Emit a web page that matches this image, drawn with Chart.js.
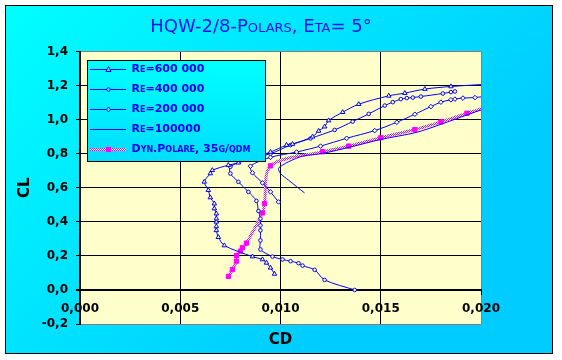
<!DOCTYPE html>
<html><head><meta charset="utf-8">
<script src="https://cdn.jsdelivr.net/npm/chart.js@4.4.1/dist/chart.umd.min.js"></script>
<style>html,body{margin:0;padding:0;background:#fff;}canvas{display:block;}</style>
</head><body>
<canvas id="c" width="562" height="360"></canvas>
<script>
const titleText = 'HQW-2/8-Polars, Eta= 5°';
const seriesNames = ['Re=600 000', 'Re=400 000', 'Re=200 000', 'Re=100000', 'Dyn.Polare, 35g/qdm'];

const re600CD = [0.0097,0.0095,0.0093,0.0091,0.0086,0.0072,0.0069,0.0068,0.0068,0.0068,0.0068,0.0068,0.0067,0.0067,0.0065,0.0064,0.0062,0.0065,0.0066,0.0074,0.0079,0.0087,0.0095,0.0103,0.0106,0.0116,0.0119,0.0122,0.0124,0.0131,0.0139,0.0154,0.0162,0.0172,0.0185,0.0205];
const re600CL = [0.094,0.13,0.159,0.179,0.196,0.261,0.31,0.35,0.373,0.40,0.419,0.448,0.478,0.507,0.543,0.586,0.635,0.684,0.703,0.733,0.747,0.78,0.81,0.851,0.857,0.90,0.934,0.959,0.995,1.044,1.091,1.14,1.156,1.18,1.195,1.21];

const re400CD = [0.0137,0.0122,0.0117,0.0111,0.0109,0.0105,0.0101,0.0096,0.0090,0.0090,0.0090,0.0090,0.0090,0.0089,0.0088,0.0084,0.0079,0.0075,0.0075,0.0083,0.0095,0.0105,0.0115,0.0127,0.0136,0.0144,0.0152,0.0156,0.0160,0.0163,0.0166,0.0170,0.0181,0.0185,0.0187];
const re400CL = [0.0,0.059,0.118,0.143,0.157,0.169,0.179,0.196,0.238,0.291,0.35,0.379,0.419,0.464,0.523,0.576,0.635,0.684,0.723,0.765,0.80,0.851,0.89,0.94,0.989,1.034,1.083,1.103,1.121,1.127,1.13,1.136,1.154,1.162,1.166];

const re200CD = [0.0099,0.0095,0.0091,0.0086,0.0085,0.0095,0.0108,0.0120,0.0133,0.0147,0.0158,0.0167,0.0175,0.0180,0.0185,0.0187,0.0191,0.0197,0.0204];
const re200CL = [0.517,0.576,0.629,0.688,0.727,0.779,0.81,0.845,0.891,0.936,0.985,1.032,1.077,1.103,1.117,1.121,1.127,1.13,1.14];

const re100CD = [0.0112,0.0104,0.0100,0.0099,0.0101,0.0104,0.0111,0.0121,0.0135,0.0150,0.0168,0.0180,0.0193,0.0203];
const re100CL = [0.57,0.645,0.684,0.714,0.733,0.753,0.786,0.802,0.84,0.884,0.926,0.973,1.028,1.07];

const dynCD = [0.0074,0.0076,0.0078,0.0078,0.0080,0.0081,0.0083,0.0091,0.0092,0.0095,0.0121,0.0134,0.0150,0.0167,0.0180,0.0193,0.0203];
const dynCL = [0.08,0.12,0.169,0.202,0.228,0.248,0.275,0.452,0.507,0.729,0.812,0.845,0.894,0.942,0.987,1.038,1.075];

const xTickLabels = ['0,000','0,005','0,010','0,015','0,020'];
const yTickLabels = ['-0,2','0,0','0,2','0,4','0,6','0,8','1,0','1,2','1,4'];
const xTitle = 'CD';
const yTitle = 'CL';

const pts = (xs, ys) => xs.map((x, i) => ({x: x, y: ys[i]}));

const BLUE = '#0000FF';
const MAG = '#FF00FF';
const PLOT_BG = '#FFFFCC';
const FAM = "'DejaVu Sans', sans-serif";

// checkered magenta/white pattern for dyn. polar line
const pc = document.createElement('canvas'); pc.width = 2; pc.height = 2;
const pg = pc.getContext('2d');
pg.fillStyle = '#FFFFFF'; pg.fillRect(0,0,2,2);
pg.fillStyle = MAG; pg.fillRect(0,0,1,1); pg.fillRect(1,1,1,1);
const magPattern = pg.createPattern(pc, 'repeat');

function makeSymbol(kind) {
  const c = document.createElement('canvas'); c.width = 36; c.height = 11;
  const g = c.getContext('2d');
  if (kind === 'dyn') {
    g.fillStyle = magPattern; g.fillRect(0, 4, 36, 3);
    g.fillStyle = MAG; g.fillRect(16, 3, 5, 5);
    return c;
  }
  g.strokeStyle = BLUE; g.lineWidth = 1;
  g.beginPath(); g.moveTo(0, 5.5); g.lineTo(36, 5.5); g.stroke();
  g.fillStyle = '#00FFFF';
  if (kind === 'tri') { g.beginPath(); g.moveTo(18.5, 2.5); g.lineTo(21, 7.5); g.lineTo(16, 7.5); g.closePath(); g.fill(); g.stroke(); }
  if (kind === 'circ') { g.beginPath(); g.arc(18.5, 5.5, 1.8, 0, Math.PI*2); g.fill(); g.stroke(); }
  if (kind === 'dia') { g.beginPath(); g.moveTo(18.5, 3); g.lineTo(20.5, 5.5); g.lineTo(18.5, 8); g.lineTo(16.5, 5.5); g.closePath(); g.fill(); g.stroke(); }
  return c;
}
const legendSymbols = [makeSymbol('tri'), makeSymbol('circ'), makeSymbol('dia'), makeSymbol('line'), makeSymbol('dyn')];

const backgroundPlugin = {
  id: 'bgFrame',
  beforeDraw(chart) {
    const ctx = chart.ctx, a = chart.chartArea;
    ctx.save();
    const grd = ctx.createLinearGradient(5, 5, 330, 330);
    grd.addColorStop(0, '#00FFFF'); grd.addColorStop(1, '#00CCFF');
    ctx.fillStyle = grd; ctx.fillRect(5, 5, 548, 349);
    ctx.strokeStyle = '#000'; ctx.lineWidth = 1; ctx.strokeRect(5.5, 5.5, 547, 348);
    ctx.fillStyle = PLOT_BG; ctx.fillRect(a.left, a.top, a.right - a.left, a.bottom - a.top);
    ctx.restore();
  }
};

function drawLegendOnTop(chart) {
  const lg = chart.legend, ctx = chart.ctx;
  ctx.save();
  const grd = ctx.createLinearGradient(0, 60, 0, 162);
  grd.addColorStop(0, '#00FFFF'); grd.addColorStop(1, '#00DDFF');
  ctx.fillStyle = grd; ctx.fillRect(87, 60, 179, 102);
  ctx.strokeStyle = '#000'; ctx.lineWidth = 1; ctx.strokeRect(87.5, 60.5, 178, 101);
  ctx.restore();
  lg.left = 81; lg.top = 55; lg.right = 300; lg.bottom = 200; lg.width = 219; lg.height = 145;
  lg.draw();
}
const legendLayerPlugin = {
  id: 'legendLayer',
  beforeLayout(chart) {
    const lg = chart.legend;
    if (!lg || lg._patchedLayer) return;
    lg._patchedLayer = true;
    lg._layers = function() { return [{ z: 10, draw() { drawLegendOnTop(chart); } }]; };
  }
};

const common = { showLine: true, tension: 0.3, borderWidth: 1, borderColor: BLUE, pointBorderColor: BLUE, pointBorderWidth: 1, pointBackgroundColor: PLOT_BG };

new Chart(document.getElementById('c'), {
  type: 'scatter',
  data: {
    datasets: [
      Object.assign({}, common, { label: seriesNames[0], data: pts(re600CD, re600CL), pointStyle: 'triangle', pointRadius: 2.6 }),
      Object.assign({}, common, { label: seriesNames[1], data: pts(re400CD, re400CL), pointStyle: 'circle', pointRadius: 1.8 }),
      Object.assign({}, common, { label: seriesNames[2], data: pts(re200CD, re200CL), pointStyle: 'rectRot', pointRadius: 2.3 }),
      Object.assign({}, common, { label: seriesNames[3], data: pts(re100CD, re100CL), pointRadius: 0 }),
      Object.assign({}, common, { label: seriesNames[4], data: pts(dynCD, dynCL), borderColor: magPattern, borderWidth: 3, pointStyle: 'rect', pointRadius: 3, pointBorderColor: MAG, pointBackgroundColor: MAG })
    ]
  },
  options: {
    responsive: false, animation: false, devicePixelRatio: 1,
    layout: { padding: { left: 5, right: 45, top: 5, bottom: 36 } },
    plugins: {
      tooltip: { enabled: false },
      title: {
        display: true, text: titleText, color: '#1111EE',
        font: { family: FAM, size: 18, weight: 'small-caps', lineHeight: 1.2 },
        padding: { top: 12, bottom: 13 }
      },
      legend: {
        display: true, position: 'chartArea', align: 'start',
        labels: {
          usePointStyle: true, pointStyleWidth: 36, padding: 9, color: '#0000EE',
          font: { family: FAM, size: 11, weight: 'small-caps bold' },
          generateLabels: (chart) => chart.data.datasets.map((ds, i) => ({
            text: ds.label, pointStyle: legendSymbols[i], fontColor: '#0000EE',
            fillStyle: 'rgba(0,0,0,0)', strokeStyle: 'rgba(0,0,0,0)', lineWidth: 0, hidden: false, datasetIndex: i
          }))
        }
      }
    },
    scales: {
      x: {
        type: 'linear', position: { y: 0 }, min: 0, max: 0.02,
        ticks: { stepSize: 0.005, maxRotation: 0, padding: 8, color: '#000',
          font: { family: FAM, size: 12, weight: 'bold' },
          callback: (v, i) => xTickLabels[i] },
        grid: { color: (c) => c.index === xTickLabels.length - 1 ? '#808080' : '#000', lineWidth: 1, tickLength: 4, tickColor: '#000' },
        border: { color: '#000', width: 2 },
        title: { display: true, text: xTitle, color: '#000', font: { family: FAM, size: 15, weight: 'bold', lineHeight: 1.2 }, padding: { top: 7, bottom: 0 } }
      },
      y: {
        type: 'linear', position: 'left', min: -0.2, max: 1.4,
        afterFit: (s) => { s.width = 75; },
        ticks: { stepSize: 0.2, padding: 8, color: '#000',
          font: { family: FAM, size: 12, weight: 'bold' },
          callback: (v, i) => yTickLabels[i] },
        grid: {
          color: (c) => (c.index === 0 || c.index === yTickLabels.length - 1) ? '#808080' : '#000',
          lineWidth: (c) => c.index === 1 ? 2 : 1, tickLength: 4, tickColor: '#000'
        },
        border: { color: '#000', width: 2 },
        title: { display: true, text: yTitle, color: '#000', font: { family: FAM, size: 15, weight: 'bold', lineHeight: 1.2 }, padding: { top: 11, bottom: 0 } }
      },
      ySpacer: {
        type: 'linear', position: 'right', display: true,
        afterFit: (s) => { s.width = 36; },
        grid: { display: false }, border: { display: false }, ticks: { display: false }
      }
    }
  },
  plugins: [backgroundPlugin, legendLayerPlugin]
});
</script>
</body></html>
